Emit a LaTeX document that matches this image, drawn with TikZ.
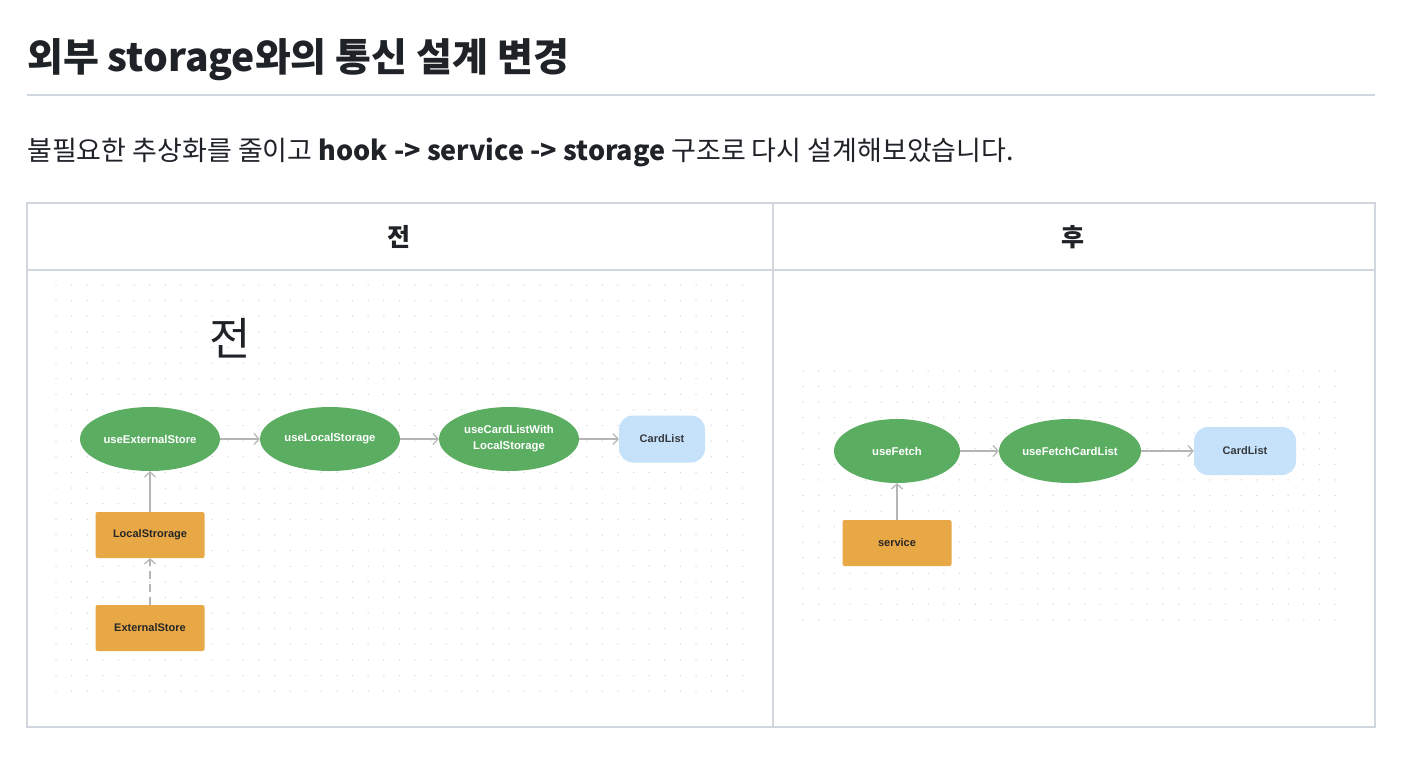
\documentclass[tikz,border=0pt]{standalone}
\usepackage{fontspec}
\setmainfont{Liberation Sans}
\newfontfamily\kr{Noto Sans CJK KR}
\usetikzlibrary{shapes.geometric,arrows.meta}
\definecolor{gridline}{HTML}{D0D7DE}
\definecolor{txt}{HTML}{1F2328}
\definecolor{hookgreen}{HTML}{5BAD62}
\definecolor{boxorange}{HTML}{E9A846}
\definecolor{cardblue}{HTML}{C6E2FB}
\definecolor{arrowgray}{HTML}{B5B5B5}
\definecolor{dotgray}{HTML}{D6D6D6}
\tikzset{
  hook/.style={ellipse, fill=hookgreen, draw=none, minimum width=140pt, minimum height=64pt, inner sep=0pt, text=white, font=\fontsize{11.3}{13}\selectfont\bfseries, align=center},
  store/.style={rectangle, rounded corners=2pt, fill=boxorange, draw=none, minimum width=109pt, minimum height=46pt, inner sep=0pt, text=black!85, font=\fontsize{11}{13}\selectfont\bfseries},
  card/.style={rectangle, rounded corners=14pt, fill=cardblue, draw=none, minimum width=86pt, minimum height=47pt, inner sep=0pt, text=txt!90, font=\fontsize{11}{13}\selectfont\bfseries},
  flow/.style={draw=arrowgray, line width=1.2pt, -{Straight Barb[length=5pt,width=11pt]}},
  tableline/.style={draw=gridline, line width=1.6pt},
  dotmark/.style={fill=dotgray, draw=none}
}
\begin{document}
\begin{tikzpicture}[x=1pt,y=-1pt]
\useasboundingbox[fill=white] (0,0) rectangle (1408,764);
% title
\node[anchor=base west, inner sep=0pt, text=txt, font=\kr\bfseries\fontsize{39}{44}\selectfont] (title) at (27,71) {외부 storage와의 통신 설계 변경};
\draw[draw=gridline, line width=1.5pt] (27,95) -- (1375,95);
\node[anchor=base west, inner sep=0pt, text=txt, font=\kr\fontsize{27}{32}\selectfont] (sub) at (27,160) {불필요한 추상화를 줄이고 \textbf{hook -> service -> storage} 구조로 다시 설계해보았습니다.};
% table
\draw[tableline] (27,203) rectangle (1375,727);
\draw[tableline] (27,270) -- (1375,270);
\draw[tableline] (773,203) -- (773,727);
\node[text=txt, font=\kr\bfseries\fontsize{25}{30}\selectfont] (hbefore) at (399,237) {전};
\node[text=txt, font=\kr\bfseries\fontsize{25}{30}\selectfont] (hafter) at (1073,237) {후};
% dot grids
\foreach \i in {0,...,44} {\foreach \j in {0,...,26} {\fill[dotmark] ({56+15.61*\i},{285+15.62*\j}) circle (0.75pt);}}
\foreach \i in {0,...,34} {\foreach \j in {0,...,16} {\fill[dotmark] ({803+15.65*\i},{371+15.56*\j}) circle (0.75pt);}}
% before
\node[text=txt, font=\kr\fontsize{45}{50}\selectfont] (bigbefore) at (230,338) {전};
\node[hook] (ues) at (150,439) {useExternalStore};
\node[hook] (uls) at (330,439) {useLocalStorage};
\node[hook] (ucl) at (509,439) {useCardListWith\\[3pt]LocalStorage};
\node[card] (cl1) at (662,439) {CardList};
\node[store] (ls) at (150,535) {LocalStrorage};
\node[store] (es) at (150,628) {ExternalStore};
\draw[flow] (ues) -- (uls);
\draw[flow] (uls) -- (ucl);
\draw[flow] (ucl) -- (cl1);
\draw[flow] (ls) -- (ues);
\draw[flow, dash pattern=on 8pt off 5pt] (es) -- (ls);
% after
\node[hook, minimum width=126pt] (uf) at (897,451) {useFetch};
\node[hook, minimum width=142pt] (ufc) at (1070,451) {useFetchCardList};
\node[card, minimum width=102pt, minimum height=48pt] (cl2) at (1245,451) {CardList};
\node[store] (svc) at (897,543) {service};
\draw[flow] (uf) -- (ufc);
\draw[flow] (ufc) -- (cl2);
\draw[flow] (svc) -- (uf);
\end{tikzpicture}
\end{document}
